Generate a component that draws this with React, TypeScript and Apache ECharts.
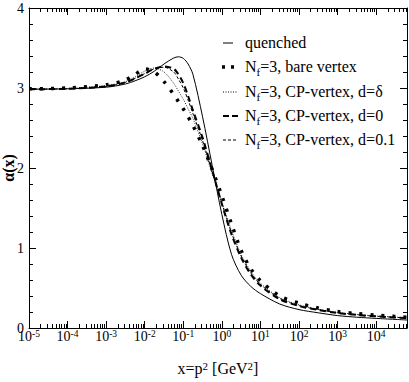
import React, { useEffect, useRef } from "react";
import * as echarts from "echarts";

// log10(x) sample positions
const logX = [-5, -4, -3, -2.5, -2.25, -2, -1.75, -1.5, -1.25, -1.125, -1, -0.875, -0.75, -0.5, -0.25, 0, 0.25, 0.5, 0.75, 1, 1.5, 2, 2.5, 3, 3.5, 4, 4.8];
const quenched = [2.985, 2.99, 3.01, 3.05, 3.09, 3.14, 3.21, 3.3, 3.375, 3.39, 3.37, 3.3, 3.17, 2.64, 2.03, 1.42, 0.92, 0.66, 0.52, 0.43, 0.3, 0.23, 0.19, 0.155, 0.135, 0.12, 0.1];
const bareVertex = [2.99, 3.0, 3.04, 3.1, 3.17, 3.24, 3.2, 3.08, 2.92, 2.83, 2.74, 2.64, 2.53, 2.28, 1.98, 1.65, 1.3, 0.97, 0.74, 0.59, 0.4, 0.31, 0.25, 0.205, 0.18, 0.16, 0.135];
const cpDelta = [2.985, 2.995, 3.03, 3.08, 3.14, 3.21, 3.25, 3.2, 3.06, 2.96, 2.86, 2.74, 2.62, 2.3, 1.93, 1.57, 1.22, 0.92, 0.71, 0.56, 0.38, 0.29, 0.235, 0.195, 0.17, 0.15, 0.128];
const cpD0 = [2.985, 2.99, 3.02, 3.07, 3.12, 3.18, 3.24, 3.27, 3.24, 3.17, 3.06, 2.9, 2.72, 2.38, 1.97, 1.55, 1.17, 0.88, 0.67, 0.53, 0.36, 0.275, 0.225, 0.188, 0.163, 0.145, 0.123];
const cpD01 = [2.985, 2.99, 3.02, 3.07, 3.12, 3.18, 3.24, 3.26, 3.2, 3.11, 3.0, 2.85, 2.68, 2.34, 1.95, 1.56, 1.19, 0.9, 0.69, 0.545, 0.37, 0.28, 0.23, 0.19, 0.166, 0.147, 0.125];

const seriesNames = [
  "quenched",
  "Nf=3, bare vertex",
  "Nf=3, CP-vertex, d=δ",
  "Nf=3, CP-vertex, d=0",
  "Nf=3, CP-vertex, d=0.1",
];

const xMinExp = -5;
const xMaxExp = 4.8;
const yMin = 0;
const yMax = 4;

const FONT = "Liberation Serif";

function minorTickValues(): number[] {
  const out: number[] = [];
  for (let n = Math.ceil(xMinExp); n <= Math.floor(xMaxExp); n++) {
    for (let k = 2; k <= 9; k++) {
      const v = n + Math.log10(k);
      if (v < xMaxExp) out.push(v);
    }
  }
  return out;
}

export default function App() {
  const ref = useRef<HTMLDivElement>(null);
  useEffect(() => {
    if (!ref.current) return;
    const chart = echarts.init(ref.current, undefined, { renderer: "svg" });
    const minors = minorTickValues();
    const axisLineStyle = { color: "#000", width: 1 };
    const baseX = {
      type: "value" as const,
      min: xMinExp,
      max: xMaxExp,
      interval: 1,
      splitLine: { show: false },
    };
    const dataArrays = [quenched, bareVertex, cpDelta, cpD0, cpD01];
    const styles: any[] = [
      { width: 1, type: "solid", color: "#000" },
      { width: 3.5, type: [3, 8], color: "#000" },
      { width: 1, type: [1, 1.5], color: "#222" },
      { width: 2, type: [6, 4], color: "#000" },
      { width: 1, type: [3, 2], color: "#000" },
    ];
    const legendSamples: any[] = [
      { x1: 223, x2: 233, dash: null, width: 1 },
      { x1: 222, x2: 235, dash: [3, 6], width: 3.5 },
      { x1: 223, x2: 238, dash: [1, 1.5], width: 1 },
      { x1: 223, x2: 238, dash: [6, 3], width: 2 },
      { x1: 223, x2: 238, dash: [3, 2], width: 1 },
    ];
    const legendY = [43, 67, 92, 116, 140];
    const richLegend = {
      n: { fontFamily: FONT, fontSize: 16, lineHeight: 18, fill: "#000", verticalAlign: "top" },
      t: { fontFamily: FONT, fontSize: 16, lineHeight: 18, fill: "#000", verticalAlign: "top" },
      f: { fontFamily: FONT, fontSize: 11, lineHeight: 11, fill: "#000", verticalAlign: "top", padding: [8, 0, 0, 0] },
    };
    const legendGraphics: any[] = [];
    seriesNames.forEach((name, i) => {
      const s = legendSamples[i];
      legendGraphics.push({
        type: "line",
        shape: { x1: s.x1, y1: legendY[i], x2: s.x2, y2: legendY[i] },
        style: { stroke: "#000", lineWidth: s.width, lineDash: s.dash || undefined },
        silent: true,
      });
      const text = name.startsWith("Nf") ? `{n|N}{f|f}{t|${name.slice(2)}}` : `{t|${name}}`;
      legendGraphics.push({
        type: "text",
        x: 245,
        y: legendY[i] - 9,
        style: { text, rich: richLegend, fontFamily: FONT, fontSize: 16, fill: "#000", verticalAlign: "top" },
        silent: true,
      });
    });
    const option: any = {
      animation: false,
      backgroundColor: "#fff",
      textStyle: { fontFamily: FONT },
      grid: { left: 29, right: 2, top: 8, bottom: 54, containLabel: false, outerBoundsMode: "none" },
      xAxis: [
        {
          ...baseX,
          position: "bottom",
          axisLine: { show: true, onZero: false, lineStyle: axisLineStyle },
          axisTick: { show: true, inside: true, length: 7, lineStyle: axisLineStyle },
          axisLabel: {
            show: true,
            margin: 1,
            fontFamily: FONT,
            formatter: (v: number) => (Number.isInteger(v) && v <= 4 ? `{b|10}{s|${v}}` : ""),
            rich: {
              b: { fontFamily: FONT, fontSize: 14, lineHeight: 14, color: "#000", verticalAlign: "bottom", padding: [4, 0, 0, 0] },
              s: { fontFamily: FONT, fontSize: 9.5, lineHeight: 10, color: "#000", verticalAlign: "top" },
            },
          },
          name: "{m|x=p}{s|2}{m| [GeV}{s|2}{m|]}",
          nameLocation: "middle",
          nameGap: 32,
          nameMoveOverlap: false,
          nameTextStyle: {
            fontFamily: FONT,
            fontSize: 16,
            color: "#000",
            rich: {
              m: { fontFamily: FONT, fontSize: 16, lineHeight: 16, color: "#000", verticalAlign: "bottom", padding: [5, 0, 0, 0] },
              s: { fontFamily: FONT, fontSize: 11, lineHeight: 11, color: "#000", verticalAlign: "top" },
            },
          },
        },
        {
          ...baseX,
          position: "bottom",
          axisLine: { show: false, onZero: false },
          axisTick: { show: true, inside: true, length: 4, lineStyle: axisLineStyle, customValues: minors },
          axisLabel: { show: false },
        },
        {
          ...baseX,
          position: "top",
          axisLine: { show: true, onZero: false, lineStyle: axisLineStyle },
          axisTick: { show: true, inside: true, length: 7, lineStyle: axisLineStyle },
          axisLabel: { show: false },
        },
        {
          ...baseX,
          position: "top",
          axisLine: { show: false, onZero: false },
          axisTick: { show: true, inside: true, length: 4, lineStyle: axisLineStyle, customValues: minors },
          axisLabel: { show: false },
        },
      ],
      yAxis: [
        {
          type: "value",
          min: yMin,
          max: yMax,
          interval: 1,
          position: "left",
          splitLine: { show: false },
          axisLine: { show: true, onZero: false, lineStyle: axisLineStyle },
          axisTick: { show: true, inside: true, length: 7, lineStyle: axisLineStyle },
          minorTick: { show: true, splitNumber: 5, length: 4, lineStyle: axisLineStyle },
          axisLabel: { show: true, margin: 5, fontFamily: FONT, fontSize: 14, color: "#000" },
          name: "α(x)",
          nameLocation: "middle",
          nameRotate: 90,
          nameGap: 13,
          nameMoveOverlap: false,
          nameTextStyle: { fontFamily: FONT, fontSize: 16, fontWeight: "bold", color: "#000" },
        },
        {
          type: "value",
          min: yMin,
          max: yMax,
          interval: 1,
          position: "right",
          splitLine: { show: false },
          axisLine: { show: true, onZero: false, lineStyle: axisLineStyle },
          axisTick: { show: true, inside: true, length: 7, lineStyle: axisLineStyle },
          minorTick: { show: true, splitNumber: 5, length: 4, lineStyle: axisLineStyle },
          axisLabel: { show: false },
        },
      ],
      graphic: legendGraphics,
      series: dataArrays.map((arr, i) => ({
        name: seriesNames[i],
        type: "line",
        xAxisIndex: 0,
        yAxisIndex: 0,
        showSymbol: false,
        symbol: "none",
        smooth: 0.3,
        lineStyle: styles[i],
        itemStyle: { color: styles[i].color },
        data: logX.map((lx, j) => [lx, arr[j]]),
      })),
    };
    chart.setOption(option);
    return () => chart.dispose();
  }, []);
  return (
    <div
      ref={ref}
      style={{ position: "fixed", left: 0, top: 0, width: 409, height: 382, background: "#fff" }}
    />
  );
}
